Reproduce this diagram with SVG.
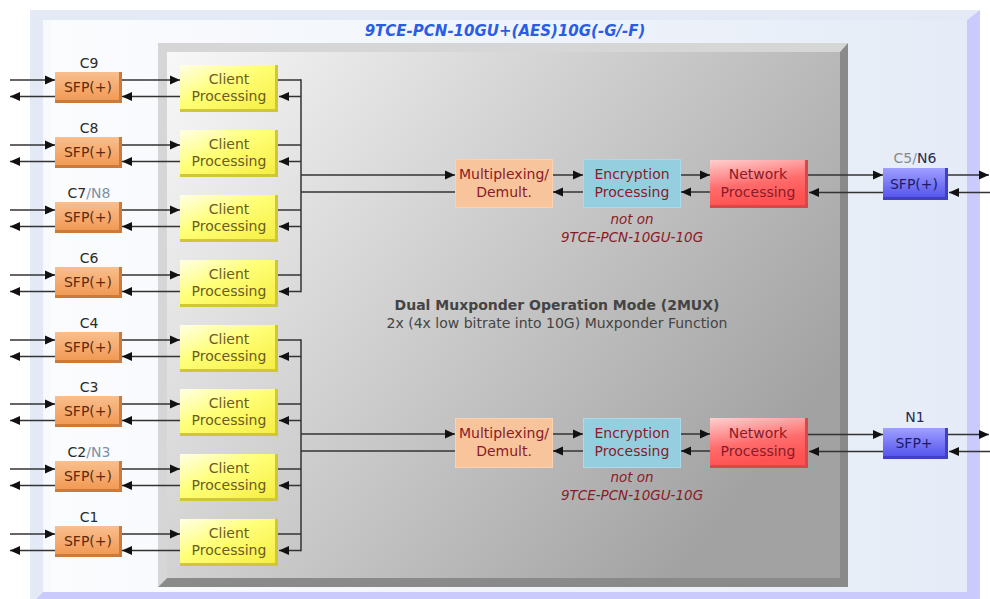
<svg xmlns="http://www.w3.org/2000/svg" width="990" height="599" viewBox="0 0 990 599">
<defs>
<linearGradient id="gPanel" x1="0" y1="0" x2="1" y2="0"><stop offset="0" stop-color="#fbfcfe"/><stop offset="1" stop-color="#e5ecf7"/></linearGradient>
<linearGradient id="gGray" x1="0" y1="0" x2="1" y2="0.6"><stop offset="0" stop-color="#f8f8f8"/><stop offset="1" stop-color="#a2a2a2"/></linearGradient>
<linearGradient id="gSfp" x1="0" y1="0" x2="0" y2="1"><stop offset="0" stop-color="#f9bf8e"/><stop offset="1" stop-color="#f29a55"/></linearGradient>
<linearGradient id="gClient" x1="0" y1="0" x2="1" y2="1"><stop offset="0" stop-color="#ffffe6"/><stop offset="0.45" stop-color="#ffff78"/><stop offset="1" stop-color="#f6ee42"/></linearGradient>
<linearGradient id="gNet" x1="0" y1="0" x2="0.3" y2="1"><stop offset="0" stop-color="#ffd0d0"/><stop offset="0.6" stop-color="#ff6c6c"/><stop offset="1" stop-color="#ff5252"/></linearGradient>
<linearGradient id="gBlue" x1="0" y1="0" x2="0" y2="1"><stop offset="0" stop-color="#a0a0ff"/><stop offset="1" stop-color="#5656ee"/></linearGradient>
<marker id="ah" markerUnits="userSpaceOnUse" markerWidth="10" markerHeight="10" refX="10" refY="5" orient="auto"><path d="M0,0.5 L10,5 L0,9.5 z" fill="#111"/></marker>
<style>
text{font-family:"DejaVu Sans",Verdana,"Liberation Sans",sans-serif;font-size:14px;text-anchor:middle}
.c line,.c path{stroke:#333;stroke-width:1.5;fill:none}
.a{marker-end:url(#ah)}
.sfpE{fill:#cc7a3a}
.sfpF{fill:url(#gSfp)}
.sfpT{fill:#5e2a10}
.cliE{fill:#cfc738}
.cliF{fill:url(#gClient)}
.cliT{fill:#6b5c22}
.lbl{fill:#2a2a2a}
.dim{fill:#8090a4}
.red{fill:#8a1a28}
.note{fill:#8a1a28;font-style:italic;font-size:13.5px}
</style>
</defs>

<!-- outer frame -->
<g id="frame">
<polygon points="30,10 980,10 967,20 43,20 43,592 30,605" fill="#e3eaf5"/>
<polygon points="980,10 980,605 30,605 43,592 967,592 967,20" fill="#cacafc"/>
<rect x="43" y="20" width="924" height="572" fill="url(#gPanel)"/>
<rect x="43" y="20" width="7" height="572" fill="#f7f9fd"/>
<text x="505" y="36" style="font-weight:bold;font-style:italic;font-size:15px;fill:#2a5de6">9TCE-PCN-10GU+(AES)10G(-G/-F)</text>
</g>

<!-- gray function box -->
<g id="function-box">
<polygon points="158,43 848,43 840,52 167,52 167,578 158,587" fill="#d6d6d6"/>
<polygon points="848,43 848,587 158,587 167,578 840,578 840,52" fill="#8a8a8a"/>
<rect x="167" y="52" width="673" height="526" fill="url(#gGray)"/>
<text x="557" y="310" style="font-weight:bold;font-size:14px;fill:#444">Dual Muxponder Operation Mode (2MUX)</text>
<text x="557" y="328" style="font-size:14px;fill:#444">2x (4x low bitrate into 10G) Muxponder Function</text>
</g>

<!-- connectors -->
<g id="connectors" class="c">
<line class="a" x1="10" y1="80" x2="55" y2="80"/><line class="a" x1="55" y1="96.5" x2="10" y2="96.5"/>
<line class="a" x1="122" y1="80" x2="180" y2="80"/><line class="a" x1="180" y1="96.5" x2="122" y2="96.5"/>
<line x1="278" y1="80" x2="301" y2="80"/><line class="a" x1="301" y1="96.5" x2="279" y2="96.5"/>
<line class="a" x1="10" y1="145" x2="55" y2="145"/><line class="a" x1="55" y1="161.5" x2="10" y2="161.5"/>
<line class="a" x1="122" y1="145" x2="180" y2="145"/><line class="a" x1="180" y1="161.5" x2="122" y2="161.5"/>
<line x1="278" y1="145" x2="301" y2="145"/><line class="a" x1="301" y1="161.5" x2="279" y2="161.5"/>
<line class="a" x1="10" y1="210" x2="55" y2="210"/><line class="a" x1="55" y1="226.5" x2="10" y2="226.5"/>
<line class="a" x1="122" y1="210" x2="180" y2="210"/><line class="a" x1="180" y1="226.5" x2="122" y2="226.5"/>
<line x1="278" y1="210" x2="301" y2="210"/><line class="a" x1="301" y1="226.5" x2="279" y2="226.5"/>
<line class="a" x1="10" y1="275" x2="55" y2="275"/><line class="a" x1="55" y1="291.5" x2="10" y2="291.5"/>
<line class="a" x1="122" y1="275" x2="180" y2="275"/><line class="a" x1="180" y1="291.5" x2="122" y2="291.5"/>
<line x1="278" y1="275" x2="301" y2="275"/><line class="a" x1="301" y1="291.5" x2="279" y2="291.5"/>
<line class="a" x1="10" y1="340" x2="55" y2="340"/><line class="a" x1="55" y1="356.5" x2="10" y2="356.5"/>
<line class="a" x1="122" y1="340" x2="180" y2="340"/><line class="a" x1="180" y1="356.5" x2="122" y2="356.5"/>
<line x1="278" y1="340" x2="301" y2="340"/><line class="a" x1="301" y1="356.5" x2="279" y2="356.5"/>
<line class="a" x1="10" y1="404" x2="55" y2="404"/><line class="a" x1="55" y1="420.5" x2="10" y2="420.5"/>
<line class="a" x1="122" y1="404" x2="180" y2="404"/><line class="a" x1="180" y1="420.5" x2="122" y2="420.5"/>
<line x1="278" y1="404" x2="301" y2="404"/><line class="a" x1="301" y1="420.5" x2="279" y2="420.5"/>
<line class="a" x1="10" y1="469" x2="55" y2="469"/><line class="a" x1="55" y1="485.5" x2="10" y2="485.5"/>
<line class="a" x1="122" y1="469" x2="180" y2="469"/><line class="a" x1="180" y1="485.5" x2="122" y2="485.5"/>
<line x1="278" y1="469" x2="301" y2="469"/><line class="a" x1="301" y1="485.5" x2="279" y2="485.5"/>
<line class="a" x1="10" y1="534" x2="55" y2="534"/><line class="a" x1="55" y1="550.5" x2="10" y2="550.5"/>
<line class="a" x1="122" y1="534" x2="180" y2="534"/><line class="a" x1="180" y1="550.5" x2="122" y2="550.5"/>
<line x1="278" y1="534" x2="301" y2="534"/><line class="a" x1="301" y1="550.5" x2="279" y2="550.5"/>
<line x1="301" y1="79.3" x2="301" y2="292.2"/>
<line x1="301" y1="339.3" x2="301" y2="551.2"/>
<line class="a" x1="301" y1="175" x2="455" y2="175"/><line x1="455" y1="192" x2="301" y2="192"/>
<line class="a" x1="553" y1="175" x2="583" y2="175"/><line class="a" x1="583" y1="192" x2="553" y2="192"/>
<line class="a" x1="681" y1="175" x2="710" y2="175"/><line class="a" x1="710" y1="192" x2="681" y2="192"/>
<line class="a" x1="808" y1="175" x2="883" y2="175"/><line class="a" x1="883" y1="192.5" x2="809" y2="192.5"/>
<line class="a" x1="948" y1="175" x2="989" y2="175"/><line class="a" x1="990" y1="192.5" x2="949" y2="192.5"/>
<line class="a" x1="301" y1="434" x2="455" y2="434"/><line x1="455" y1="451" x2="301" y2="451"/>
<line class="a" x1="553" y1="434" x2="583" y2="434"/><line class="a" x1="583" y1="451" x2="553" y2="451"/>
<line class="a" x1="681" y1="434" x2="710" y2="434"/><line class="a" x1="710" y1="451" x2="681" y2="451"/>
<line class="a" x1="808" y1="434.5" x2="883" y2="434.5"/><line class="a" x1="883" y1="451.5" x2="809" y2="451.5"/>
<line class="a" x1="948" y1="434.5" x2="989" y2="434.5"/><line class="a" x1="990" y1="451.5" x2="949" y2="451.5"/>
</g>

<!-- left SFP nodes -->
<g id="sfp-c9"><text class="lbl" x="89" y="68">C9</text><rect class="sfpE" x="55" y="72" width="67" height="31"/><rect class="sfpF" x="55" y="72" width="64" height="28"/><text class="sfpT" x="88" y="92">SFP(+)</text></g>
<g id="sfp-c8"><text class="lbl" x="89" y="133">C8</text><rect class="sfpE" x="55" y="137" width="67" height="31"/><rect class="sfpF" x="55" y="137" width="64" height="28"/><text class="sfpT" x="88" y="157">SFP(+)</text></g>
<g id="sfp-c7"><text x="89" y="198"><tspan class="lbl">C7</tspan><tspan class="dim">/N8</tspan></text><rect class="sfpE" x="55" y="202" width="67" height="31"/><rect class="sfpF" x="55" y="202" width="64" height="28"/><text class="sfpT" x="88" y="222">SFP(+)</text></g>
<g id="sfp-c6"><text class="lbl" x="89" y="263">C6</text><rect class="sfpE" x="55" y="267" width="67" height="31"/><rect class="sfpF" x="55" y="267" width="64" height="28"/><text class="sfpT" x="88" y="287">SFP(+)</text></g>
<g id="sfp-c4"><text class="lbl" x="89" y="328">C4</text><rect class="sfpE" x="55" y="332" width="67" height="31"/><rect class="sfpF" x="55" y="332" width="64" height="28"/><text class="sfpT" x="88" y="352">SFP(+)</text></g>
<g id="sfp-c3"><text class="lbl" x="89" y="392">C3</text><rect class="sfpE" x="55" y="396" width="67" height="31"/><rect class="sfpF" x="55" y="396" width="64" height="28"/><text class="sfpT" x="88" y="416">SFP(+)</text></g>
<g id="sfp-c2"><text x="89" y="457"><tspan class="lbl">C2</tspan><tspan class="dim">/N3</tspan></text><rect class="sfpE" x="55" y="461" width="67" height="31"/><rect class="sfpF" x="55" y="461" width="64" height="28"/><text class="sfpT" x="88" y="481">SFP(+)</text></g>
<g id="sfp-c1"><text class="lbl" x="89" y="522">C1</text><rect class="sfpE" x="55" y="526" width="67" height="31"/><rect class="sfpF" x="55" y="526" width="64" height="28"/><text class="sfpT" x="88" y="546">SFP(+)</text></g>

<!-- client processing nodes -->
<g id="client-9"><rect class="cliE" x="180" y="65" width="98" height="47"/><rect class="cliF" x="180" y="65" width="95" height="44"/><text class="cliT" x="229" y="84">Client</text><text class="cliT" x="229" y="101">Processing</text></g>
<g id="client-8"><rect class="cliE" x="180" y="130" width="98" height="47"/><rect class="cliF" x="180" y="130" width="95" height="44"/><text class="cliT" x="229" y="149">Client</text><text class="cliT" x="229" y="166">Processing</text></g>
<g id="client-7"><rect class="cliE" x="180" y="195" width="98" height="47"/><rect class="cliF" x="180" y="195" width="95" height="44"/><text class="cliT" x="229" y="214">Client</text><text class="cliT" x="229" y="231">Processing</text></g>
<g id="client-6"><rect class="cliE" x="180" y="260" width="98" height="47"/><rect class="cliF" x="180" y="260" width="95" height="44"/><text class="cliT" x="229" y="279">Client</text><text class="cliT" x="229" y="296">Processing</text></g>
<g id="client-4"><rect class="cliE" x="180" y="325" width="98" height="47"/><rect class="cliF" x="180" y="325" width="95" height="44"/><text class="cliT" x="229" y="344">Client</text><text class="cliT" x="229" y="361">Processing</text></g>
<g id="client-3"><rect class="cliE" x="180" y="389" width="98" height="47"/><rect class="cliF" x="180" y="389" width="95" height="44"/><text class="cliT" x="229" y="408">Client</text><text class="cliT" x="229" y="425">Processing</text></g>
<g id="client-2"><rect class="cliE" x="180" y="454" width="98" height="47"/><rect class="cliF" x="180" y="454" width="95" height="44"/><text class="cliT" x="229" y="473">Client</text><text class="cliT" x="229" y="490">Processing</text></g>
<g id="client-1"><rect class="cliE" x="180" y="519" width="98" height="47"/><rect class="cliF" x="180" y="519" width="95" height="44"/><text class="cliT" x="229" y="538">Client</text><text class="cliT" x="229" y="555">Processing</text></g>

<!-- upper chain nodes -->
<g id="mux-1"><rect x="455.5" y="159.5" width="97" height="48" fill="#f8c49b" stroke="#fbd3b2"/><text class="red" x="504" y="179">Multiplexing/</text><text class="red" x="504" y="197">Demult.</text></g>
<g id="enc-1"><rect x="583.5" y="159.5" width="97" height="48" fill="#95cfdf" stroke="#abdbe8"/><text class="red" x="632" y="179">Encryption</text><text class="red" x="632" y="197">Processing</text><text class="note" x="632" y="224">not on</text><text class="note" x="632" y="242">9TCE-PCN-10GU-10G</text></g>
<g id="net-1"><rect x="710" y="160" width="98" height="48" fill="#d84848"/><rect x="710" y="160" width="95" height="45" fill="url(#gNet)"/><text class="red" x="758" y="179">Network</text><text class="red" x="758" y="197">Processing</text></g>
<g id="sfp-n6"><text x="915" y="163"><tspan fill="#8a8a8a">C5</tspan><tspan fill="#7f8fb0">/</tspan><tspan fill="#2a2a50">N6</tspan></text><rect x="883" y="168" width="65" height="32" fill="#4040c0"/><rect x="883" y="168" width="62" height="29" fill="url(#gBlue)"/><text x="914" y="189" fill="#1c1c6a">SFP(+)</text></g>

<!-- lower chain nodes -->
<g id="mux-2"><rect x="455.5" y="418.5" width="97" height="49" fill="#f8c49b" stroke="#fbd3b2"/><text class="red" x="504" y="438">Multiplexing/</text><text class="red" x="504" y="456">Demult.</text></g>
<g id="enc-2"><rect x="583.5" y="418.5" width="97" height="49" fill="#95cfdf" stroke="#abdbe8"/><text class="red" x="632" y="438">Encryption</text><text class="red" x="632" y="456">Processing</text><text class="note" x="632" y="482">not on</text><text class="note" x="632" y="500">9TCE-PCN-10GU-10G</text></g>
<g id="net-2"><rect x="710" y="418" width="98" height="50" fill="#d84848"/><rect x="710" y="418" width="95" height="47" fill="url(#gNet)"/><text class="red" x="758" y="438">Network</text><text class="red" x="758" y="456">Processing</text></g>
<g id="sfp-n1"><text x="915" y="422" fill="#2a2a50">N1</text><rect x="883" y="428" width="65" height="31" fill="#4040c0"/><rect x="883" y="428" width="62" height="28" fill="url(#gBlue)"/><text x="914" y="448" fill="#1c1c6a">SFP+</text></g>
</svg>
